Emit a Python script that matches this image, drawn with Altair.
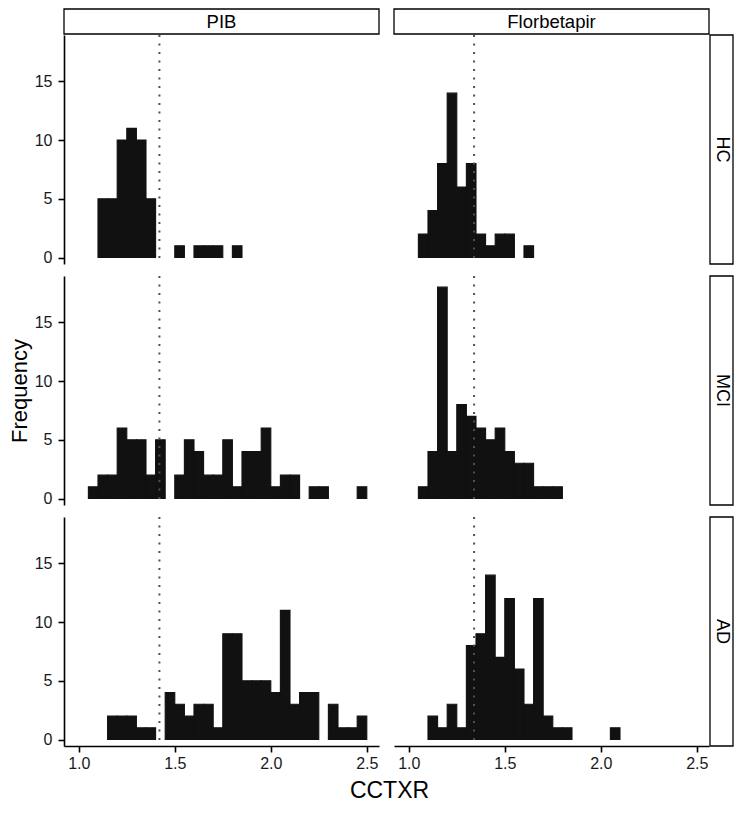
import altair as alt
import pandas as pd

FONT = "Liberation Sans"

# histogram bins (CCTXR)
bin_start = [1.05, 1.10, 1.15, 1.20, 1.25, 1.30, 1.35, 1.40, 1.45, 1.50,
             1.55, 1.60, 1.65, 1.70, 1.75, 1.80, 1.85, 1.90, 1.95, 2.00,
             2.05, 2.10, 2.15, 2.20, 2.25, 2.30, 2.35, 2.40, 2.45]
bin_end = [1.10, 1.15, 1.20, 1.25, 1.30, 1.35, 1.40, 1.45, 1.50, 1.55,
           1.60, 1.65, 1.70, 1.75, 1.80, 1.85, 1.90, 1.95, 2.00, 2.05,
           2.10, 2.15, 2.20, 2.25, 2.30, 2.35, 2.40, 2.45, 2.50]

# frequencies per bin
pib_hc = [0, 5, 5, 10, 11, 10, 5, 0, 0, 1, 0, 1, 1, 1, 0, 1, 0, 0, 0, 0,
          0, 0, 0, 0, 0, 0, 0, 0, 0]
pib_mci = [1, 2, 2, 6, 5, 5, 2, 5, 0, 2, 5, 4, 2, 2, 5, 1, 4, 4, 6, 1,
           2, 2, 0, 1, 1, 0, 0, 0, 1]
pib_ad = [0, 0, 2, 2, 2, 1, 1, 0, 4, 3, 2, 3, 3, 1, 9, 9, 5, 5, 5, 4,
          11, 3, 4, 4, 0, 3, 1, 1, 2]
flo_hc = [2, 4, 8, 14, 6, 8, 2, 1, 2, 2, 0, 1, 0, 0, 0, 0, 0, 0, 0, 0,
          0, 0, 0, 0, 0, 0, 0, 0, 0]
flo_mci = [1, 4, 18, 4, 8, 7, 6, 5, 6, 4, 3, 3, 1, 1, 1, 0, 0, 0, 0, 0,
           0, 0, 0, 0, 0, 0, 0, 0, 0]
flo_ad = [0, 2, 1, 3, 1, 8, 9, 14, 7, 12, 6, 3, 12, 2, 1, 1, 0, 0, 0, 0,
          1, 0, 0, 0, 0, 0, 0, 0, 0]

tracers = ["PIB", "Florbetapir"]
groups = ["HC", "MCI", "AD"]
cutoffs = {"PIB": 1.42, "Florbetapir": 1.34}
counts = {
    ("PIB", "HC"): pib_hc, ("PIB", "MCI"): pib_mci, ("PIB", "AD"): pib_ad,
    ("Florbetapir", "HC"): flo_hc, ("Florbetapir", "MCI"): flo_mci,
    ("Florbetapir", "AD"): flo_ad,
}
x_ticks = [1.0, 1.5, 2.0, 2.5]
y_ticks = [0, 5, 10, 15]

rows = []
for (tr, gr), cs in counts.items():
    for s, e, c in zip(bin_start, bin_end, cs):
        rows.append({"tracer": tr, "group": gr, "start": s, "end": e,
                     "count": c, "zero": 0})
df = pd.DataFrame(rows)

W = 315
H = 229
STRIP = 25
RSTRIP = 23
X_DOMAIN = [0.923, 2.5636]
Y_DOMAIN = [-0.55, 18.95]
BAR = "#111111"


def panel(tracer, group):
    left = tracer == "PIB"
    bottom = group == "AD"
    d = df[(df.tracer == tracer) & (df.group == group) & (df["count"] > 0)]

    xscale = alt.Scale(domain=X_DOMAIN, nice=False, zero=False)
    yscale = alt.Scale(domain=Y_DOMAIN, nice=False, zero=False)

    if bottom:
        xkw = dict(values=x_ticks, format=".1f", labelPadding=3,
                   labelFlush=False)
        if left:
            xkw.update(title="CCTXR", titleX=W + 10, titleAnchor="middle",
                       titlePadding=8, titleFontSize=23)
        else:
            xkw.update(title="")
        xenc = alt.X("start:Q", scale=xscale, axis=alt.Axis(**xkw))
    else:
        xenc = alt.X("start:Q", scale=xscale, axis=None)

    if left:
        ykw = dict(values=y_ticks, labelPadding=6)
        ykw.update(title="Frequency" if group == "MCI" else "")
        if group == "MCI":
            ykw.update(titlePadding=3)
        yenc = alt.Y("count:Q", scale=yscale, axis=alt.Axis(**ykw))
    else:
        yenc = alt.Y("count:Q", scale=yscale, axis=None)

    bars = alt.Chart(d).mark_rect(
        color=BAR, stroke=BAR, strokeWidth=1.1
    ).encode(x=xenc, x2="end:Q", y=yenc, y2="zero:Q")
    rule = alt.Chart(pd.DataFrame({"cut": [cutoffs[tracer]]})).mark_rule(
        color="#505050", strokeDash=[2, 6.5], strokeWidth=2
    ).encode(x=alt.X("cut:Q"))

    layers = [bars, rule]

    if group == "HC":
        lab = pd.DataFrame({"label": [tracer]})
        layers.append(alt.Chart(lab).mark_rect(
            fill="white", stroke="black", strokeWidth=1.3
        ).encode(x=alt.value(0), x2=alt.value(W),
                 y=alt.value(-STRIP - 1), y2=alt.value(-1)))
        layers.append(alt.Chart(lab).mark_text(
            font=FONT, fontSize=18.5, color="black", baseline="middle"
        ).encode(x=alt.value(W / 2), y=alt.value(-STRIP / 2 - 1),
                 text="label:N"))
    if not left:
        lab = pd.DataFrame({"label": [group]})
        layers.append(alt.Chart(lab).mark_rect(
            fill="white", stroke="black", strokeWidth=1.3
        ).encode(x=alt.value(W + 1), x2=alt.value(W + 1 + RSTRIP),
                 y=alt.value(0), y2=alt.value(H)))
        layers.append(alt.Chart(lab).mark_text(
            font=FONT, fontSize=18, color="black", angle=90,
            baseline="middle", align="center"
        ).encode(x=alt.value(W + 1 + RSTRIP / 2), y=alt.value(H / 2),
                 text="label:N"))

    return alt.layer(*layers).properties(width=W, height=H)


cells = []
for g in groups:
    for t in tracers:
        cells.append(panel(t, g))

chart = alt.concat(
    *cells, columns=2, spacing={"row": 12, "column": 15}, bounds="flush"
).properties(
    padding={"left": 0, "top": 0, "right": 0, "bottom": 0}
).configure_view(
    stroke=None
).configure_axis(
    domainColor="black", domainWidth=1.6, tickColor="black", tickWidth=1.6,
    tickSize=6, labelFont=FONT, labelFontSize=16, labelColor="#1a1a1a",
    titleFont=FONT, titleFontSize=22, titleFontWeight="normal",
    titleColor="black", grid=False
)

chart.save("out.html", embed_options={"renderer": "svg", "actions": False})
